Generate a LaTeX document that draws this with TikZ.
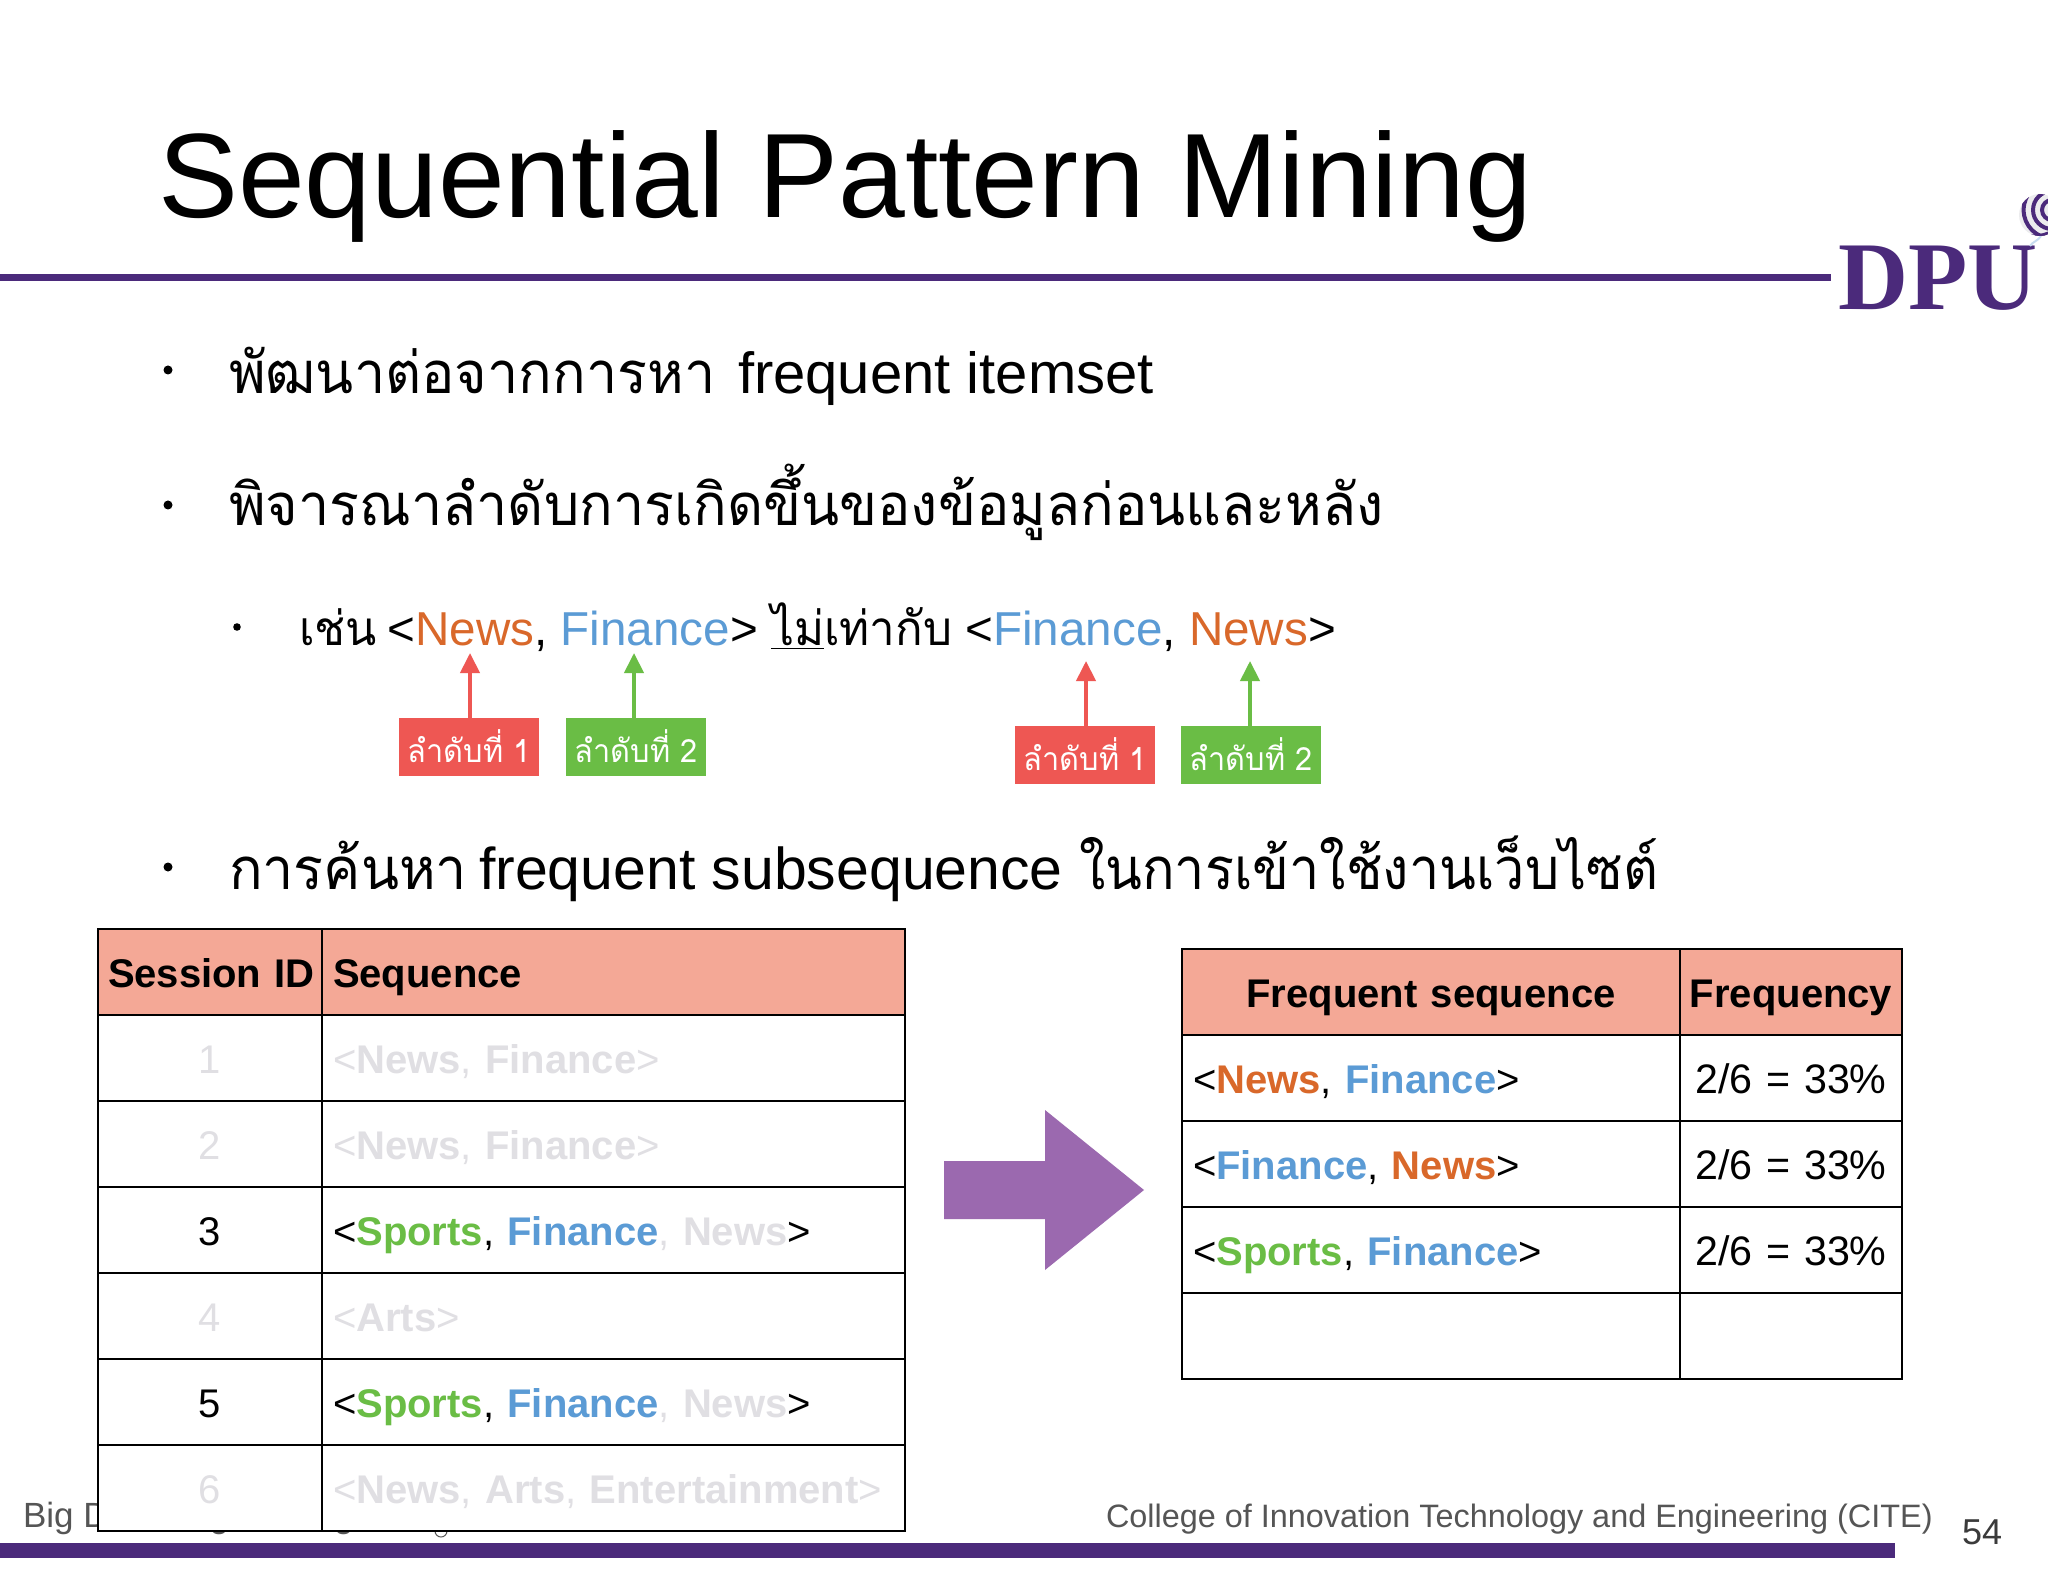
\documentclass[tikz,border=0pt]{standalone}
\usepackage{fontspec}
\setmainfont{Liberation Sans}
\newfontfamily\thf[Script=Thai,FakeStretch=0.96]{Loma}
\newfontfamily\thn[Script=Thai,FakeStretch=0.93]{Loma}
\newfontfamily\logofont{Liberation Serif}
\usetikzlibrary{arrows.meta}
\definecolor{dpu}{HTML}{4B2A7B}
\definecolor{newsc}{HTML}{D9682A}
\definecolor{finc}{HTML}{5B9BD5}
\definecolor{sportc}{HTML}{6ABD45}
\definecolor{fade}{HTML}{E0DFE3}
\definecolor{headc}{HTML}{F4A896}
\definecolor{redc}{HTML}{EE5753}
\definecolor{arrowc}{HTML}{9B69AF}
\definecolor{foot}{HTML}{555555}
\newcommand{\cnews}{\textbf{\textcolor{newsc}{News}}}
\newcommand{\cfin}{\textbf{\textcolor{finc}{Finance}}}
\newcommand{\cspo}{\textbf{\textcolor{sportc}{Sports}}}
\newcommand{\cfade}[1]{\textcolor{fade}{#1}}
\newcommand{\tagtext}[1]{\raisebox{1.5pt}{#1}}
\tikzset{
  txt/.style={anchor=base west,inner sep=0pt,outer sep=0pt},
  bodytxt/.style={txt,font=\fontsize{29pt}{34pt}\selectfont},
  subtxt/.style={txt,font=\fontsize{23.8pt}{29pt}\selectfont},
  bul/.style={circle,fill=black,inner sep=0pt,minimum size=4.5pt},
  tagbox/.style={anchor=north west,inner sep=0pt,minimum width=70pt,minimum height=29pt,text=white,font=\thf\fontsize{16pt}{19pt}\selectfont},
  redtag/.style={tagbox,fill=redc},
  greentag/.style={tagbox,fill=sportc},
  cell/.style={anchor=north west,draw=black,line width=1pt,fill=white,inner ysep=0pt,inner xsep=0pt,text height=29.3pt,text depth=13.7pt,font=\fontsize{20pt}{24pt}\selectfont},
  head/.style={fill=headc,font=\bfseries\fontsize{20pt}{24pt}\selectfont},
  ca/.style={cell,minimum width=112pt,text width=112pt,align=center},
  cb/.style={cell,minimum width=291.5pt,text width=280.5pt,inner xsep=5.5pt,align=left},
  cc/.style={cell,minimum width=249pt,text width=238pt,inner xsep=5.5pt,align=left},
  cd/.style={cell,minimum width=111pt,text width=111pt,align=center},
  ratio/.style={cd,font=\fontsize{20.6pt}{24pt}\selectfont},
  tip/.style={-{Triangle[length=10pt,width=9.5pt]},line width=2pt}
}
\begin{document}
\begin{tikzpicture}[x=0.5pt,y=-0.5pt]
\fill[white] (0,0) rectangle (2048,1582);
\useasboundingbox (0,0) rectangle (2048,1582);
% title and rules
\node[txt,font=\fontsize{60pt}{70pt}\selectfont] (title) at (158,217.5) {Sequential Pattern Mining};
\coordinate (toprulea) at (0,277.5);
\coordinate (toprule) at (1831,277.5);
\draw[dpu,line width=3.5pt] (toprulea) -- (toprule);
% logo
\begin{scope}
\clip (1800,180) rectangle (2048,330);
\node[txt,font=\logofont\bfseries\fontsize{48.5pt}{55pt}\selectfont,text=dpu] (logo) at (1838,310) {DPU};
\draw[finc!35!white,line width=1pt] (2041,236) .. controls (2038,241) and (2032,242) .. (2030,246);
\begin{scope}
\clip (2040,215) circle (10.5pt);
\fill[fade!60!white] (2040,215) circle (10.5pt);
\foreach \rr in {5,9.5,14.2}{
  \draw[dpu,line width=2pt] (2052,210) circle (\rr pt);
}
\draw[dpu,line width=1.6pt] (2026,234) .. controls (2034,238) and (2044,236) .. (2060,228);
\end{scope}
\end{scope}
% bullets
\node[bul] (b1) at (168,370) {};
\node[txt,font=\fontsize{29pt}{34pt}\thf\selectfont] (t1) at (229,394) {พัฒนาต่อจากการหา};
\node[bodytxt] (t1b) at (738,394) {frequent itemset};
\node[bul] (b2) at (168,505) {};
\node[bodytxt] (t2) at (229,526) {\thf พิจารณาลำดับการเกิดขึ้นของข้อมูลก่อนและหลัง};
\node[bul,minimum size=3.8pt] (b3) at (237,627) {};
\node[subtxt] (t3) at (299,645) {{\thf เช่น}\hspace{-1.3pt} <\textcolor{newsc}{News}, \textcolor{finc}{Finance}> {\thf\underline{ไม่}เท่ากับ} <\textcolor{finc}{Finance}, \textcolor{newsc}{News}>};
\node[bul] (b4) at (168,867) {};
\node[txt,font=\fontsize{29pt}{34pt}\thf\selectfont] (t4) at (229,889) {การค้นหา};
\node[txt,font=\fontsize{29.5pt}{34pt}\selectfont] (t4b) at (479,889) {frequent subsequence};
\node[txt,font=\fontsize{29pt}{34pt}\thn\selectfont] (t4c) at (1079,889) {ในการเข้าใช้งานเว็บไซต์};
% order tags
\node[redtag] (r1) at (399,718) {\tagtext{ลำดับที่ 1}};
\node[greentag] (g1) at (566,718) {\tagtext{ลำดับที่ 2}};
\node[redtag] (r2) at (1015,726) {\tagtext{ลำดับที่ 1}};
\node[greentag] (g2) at (1181,726) {\tagtext{ลำดับที่ 2}};
\coordinate (tr1) at (470,653);
\coordinate (tg1) at (634,653);
\coordinate (tr2) at (1086,661);
\coordinate (tg2) at (1250,661);
\draw[tip,redc] (r1.north -| tr1) -- (tr1);
\draw[tip,sportc] (g1.north -| tg1) -- (tg1);
\draw[tip,redc] (r2.north -| tr2) -- (tr2);
\draw[tip,sportc] (g2.north -| tg2) -- (tg2);
% footer
\node[txt,font=\fontsize{17.5pt}{21pt}\selectfont,text=foot] (fl) at (23,1527) {Big Data Engineering};
\draw[foot,line width=0.5pt] (435,1531) arc[start angle=180,end angle=360,radius=3pt];
\node[txt,font=\fontsize{16.2pt}{20pt}\selectfont,text=foot] (fr) at (1106,1527) {College of Innovation Technology and Engineering (CITE)};
\node[txt,font=\fontsize{18pt}{22pt}\selectfont,text=foot!70!black] (pg) at (1962,1544) {54};
\fill[dpu] (0,1543) rectangle (1895,1558);
% left table
\node[ca,head,align=left,inner xsep=0pt] (a0) at (97,928) {\hspace*{5pt}Session ID};
\node[cb,head] (s0) at (321,928) {Sequence};
\node[ca] (a1) at (97,1014) {\cfade{1}};
\node[cb] (s1) at (321,1014) {\cfade{<\textbf{News}, \textbf{Finance}>}};
\node[ca] (a2) at (97,1100) {\cfade{2}};
\node[cb] (s2) at (321,1100) {\cfade{<\textbf{News}, \textbf{Finance}>}};
\node[ca] (a3) at (97,1186) {3};
\node[cb] (s3) at (321,1186) {<\cspo, \cfin\cfade{,} \cfade{\textbf{News}}>};
\node[ca] (a4) at (97,1272) {\cfade{4}};
\node[cb] (s4) at (321,1272) {\cfade{<\textbf{Arts}>}};
\node[ca] (a5) at (97,1358) {5};
\node[cb] (s5) at (321,1358) {<\cspo, \cfin\cfade{,} \cfade{\textbf{News}}>};
\node[ca] (a6) at (97,1444) {\cfade{6}};
\node[cb] (s6) at (321,1444) {\cfade{<\textbf{News}, \textbf{Arts}, \textbf{Entertainment}>}};
% arrow
\fill[arrowc] (944,1161) -- (1045,1161) -- (1045,1110) -- (1144,1190) -- (1045,1270) -- (1045,1219) -- (944,1219) -- cycle;
% right table
\node[cc,head,align=center] (f0) at (1181,948) {Frequent sequence};
\node[cd,head,align=center] (q0) at (1679,948) {Frequency};
\node[cc] (f1) at (1181,1034) {<\cnews, \cfin>};
\node[ratio] (q1) at (1679,1034) {2/6 = 33\%};
\node[cc] (f2) at (1181,1120) {<\cfin, \cnews>};
\node[ratio] (q2) at (1679,1120) {2/6 = 33\%};
\node[cc] (f3) at (1181,1206) {<\cspo, \cfin>};
\node[ratio] (q3) at (1679,1206) {2/6 = 33\%};
\node[cc] (f4) at (1181,1292) {};
\node[cd] (q4) at (1679,1292) {};
\end{tikzpicture}
\end{document}
